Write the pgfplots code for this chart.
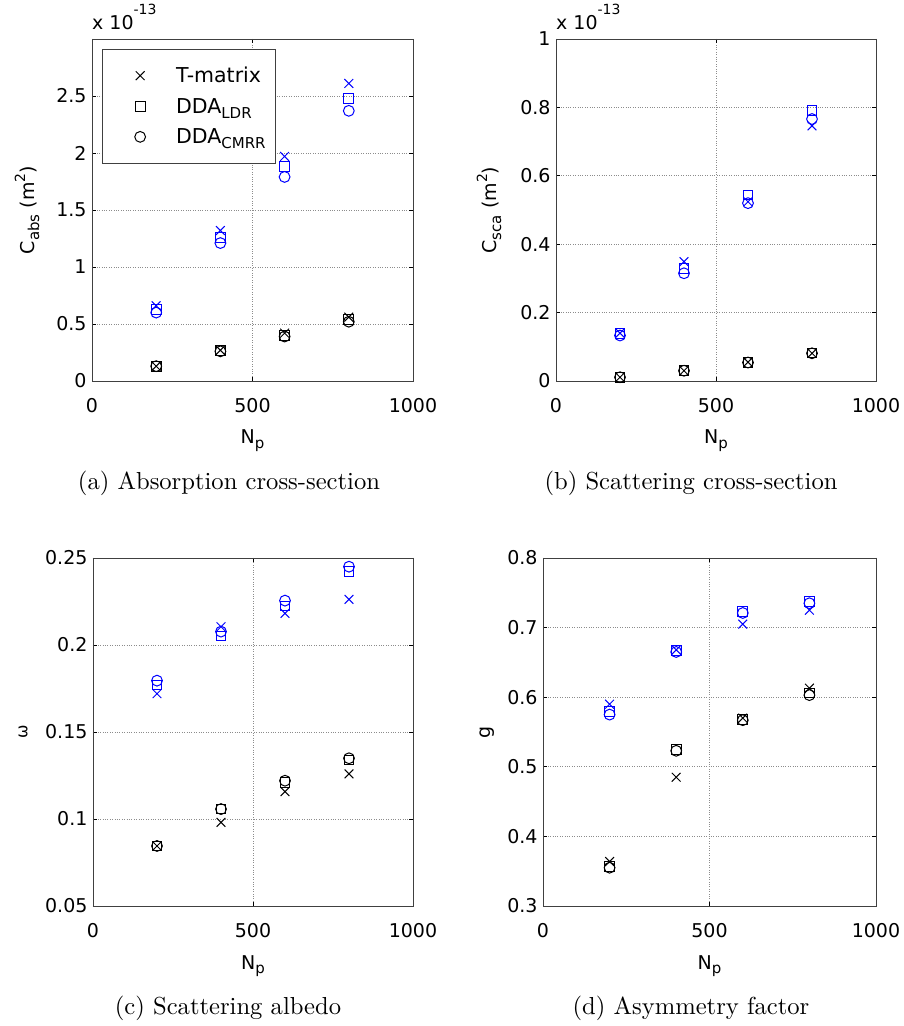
\documentclass[border=0pt]{standalone}
\usepackage{fontspec}
\usepackage{graphicx}
\usepackage{pgfplots}
\pgfplotsset{compat=1.18}
\newfontfamily\axfont{DejaVu Sans}
\newcommand{\axf}{\axfont\fontsize{19}{22}\selectfont}
\newcommand{\lgf}{\axfont\fontsize{20.5}{24}\selectfont}
\newcommand{\sub}[1]{\raisebox{-0.45ex}{\fontsize{15}{15}\selectfont #1}}
\newcommand{\capt}[1]{\scalebox{2.46}{\fontsize{10}{12}\selectfont #1}}
\pgfplotsset{
  panel/.style={
    scale only axis,
    xmin=0, xmax=1000, xtick={0,500,1000},
    grid=major,
    major grid style={dotted, black!45, line width=0.6pt},
    tick align=inside, major tick length=4pt,
    axis line style={black!75, line width=0.8pt},
    tick style={black, line width=0.6pt},
    every tick label/.append style={font=\axf},
    /pgf/number format/assume math mode=true,
    /pgf/number format/fixed,
    /pgf/number format/precision=2,
    /pgf/number format/1000 sep={},
    scaled ticks=false,
    xticklabel style={yshift=-14pt},
    yticklabel style={xshift=-2pt},
    clip=false,
  },
  tm/.style={only marks, mark=x, mark size=6.2pt, mark options={solid, line width=1pt}},
  ldr/.style={only marks, mark=square, mark size=4.9pt, mark options={solid, line width=1pt}},
  cm/.style={only marks, mark=o, mark size=5.4pt, mark options={solid, line width=1pt}},
}
\begin{document}
\begin{tikzpicture}
\path[use as bounding box] (0,0) rectangle (904pt,1026pt);

% (a) Absorption cross-section
\begin{axis}[panel, at={(92pt,645pt)}, anchor=south west, width=321pt, height=342pt,
  ymin=0, ymax=3, ytick={0,0.5,1,1.5,2,2.5},
  legend style={at={(rel axis cs:0.031,0.971)}, anchor=north west, draw=black!75,
    fill=white, font=\lgf, inner xsep=0pt, inner ysep=16pt, row sep=10pt,
    cells={anchor=west}},
  legend image code/.code={\path[draw=none] (0pt,0pt) -- (72pt,0pt); \draw[#1] plot[only marks] coordinates {(38pt,0pt)};},
]
\addlegendimage{tm, black}
\addlegendentry{T-matrix}
\addlegendimage{ldr, black}
\addlegendentry{DDA\sub{LDR}}
\addlegendimage{cm, black}
\addlegendentry{DDA\sub{CMRR}\rule{8pt}{0pt}}
\addplot[tm, blue] coordinates {(200,0.66)(400,1.32)(600,1.97)(800,2.61)};
\addplot[ldr, blue] coordinates {(200,0.63)(400,1.26)(600,1.88)(800,2.48)};
\addplot[cm, blue] coordinates {(200,0.60)(400,1.21)(600,1.79)(800,2.37)};
\addplot[tm, black] coordinates {(200,0.13)(400,0.27)(600,0.42)(800,0.56)};
\addplot[ldr, black] coordinates {(200,0.13)(400,0.27)(600,0.40)(800,0.54)};
\addplot[cm, black] coordinates {(200,0.13)(400,0.26)(600,0.39)(800,0.52)};
\node[font=\axf, anchor=base west, inner sep=0pt] at ([yshift=9pt]rel axis cs:0,1) {x 10\raisebox{15pt}{\fontsize{14}{14}\selectfont -13}};
\node[font=\axf, rotate=90, anchor=center] at ([xshift=-65pt]rel axis cs:0,0.5) {C\sub{abs} (m\raisebox{0.9ex}{\fontsize{14}{14}\selectfont 2})};
\node[font=\axf, anchor=base] at ([yshift=-63pt]rel axis cs:0.5,0) {N\sub{p}};
\end{axis}

% (b) Scattering cross-section
\begin{axis}[panel, at={(556pt,645pt)}, anchor=south west, width=320pt, height=342pt,
  ymin=0, ymax=1, ytick={0,0.2,0.4,0.6,0.8,1}]
\addplot[tm, blue] coordinates {(200,0.140)(400,0.349)(600,0.524)(800,0.746)};
\addplot[ldr, blue] coordinates {(200,0.140)(400,0.329)(600,0.544)(800,0.792)};
\addplot[cm, blue] coordinates {(200,0.133)(400,0.315)(600,0.520)(800,0.766)};
\addplot[tm, black] coordinates {(200,0.011)(400,0.030)(600,0.055)(800,0.081)};
\addplot[ldr, black] coordinates {(200,0.011)(400,0.030)(600,0.055)(800,0.082)};
\addplot[cm, black] coordinates {(200,0.011)(400,0.030)(600,0.054)(800,0.081)};
\node[font=\axf, anchor=base west, inner sep=0pt] at ([yshift=9pt]rel axis cs:0,1) {x 10\raisebox{15pt}{\fontsize{14}{14}\selectfont -13}};
\node[font=\axf, rotate=90, anchor=center] at ([xshift=-67pt]rel axis cs:0,0.5) {C\sub{sca} (m\raisebox{0.9ex}{\fontsize{14}{14}\selectfont 2})};
\node[font=\axf, anchor=base] at ([yshift=-63pt]rel axis cs:0.5,0) {N\sub{p}};
\end{axis}

% (c) Scattering albedo
\begin{axis}[panel, at={(93pt,120pt)}, anchor=south west, width=320pt, height=348pt,
  ymin=0.05, ymax=0.25, ytick={0.05,0.1,0.15,0.2,0.25}]
\addplot[tm, blue] coordinates {(200,0.1720)(400,0.2105)(600,0.2182)(800,0.2262)};
\addplot[ldr, blue] coordinates {(200,0.1770)(400,0.2052)(600,0.2224)(800,0.2421)};
\addplot[cm, blue] coordinates {(200,0.1795)(400,0.2077)(600,0.2255)(800,0.2450)};
\addplot[tm, black] coordinates {(200,0.0845)(400,0.0981)(600,0.1157)(800,0.1259)};
\addplot[ldr, black] coordinates {(200,0.0845)(400,0.1057)(600,0.1209)(800,0.1339)};
\addplot[cm, black] coordinates {(200,0.0845)(400,0.1057)(600,0.1220)(800,0.1349)};
\node[font=\axfont\fontsize{16}{18}\selectfont, rotate=90, anchor=center] at ([xshift=-70pt]rel axis cs:0,0.5) {ω};
\node[font=\axf, anchor=base] at ([yshift=-63pt]rel axis cs:0.5,0) {N\sub{p}};
\end{axis}

% (d) Asymmetry factor
\begin{axis}[panel, at={(543pt,120pt)}, anchor=south west, width=333pt, height=348pt,
  ymin=0.3, ymax=0.8, ytick={0.3,0.4,0.5,0.6,0.7,0.8}]
\addplot[tm, blue] coordinates {(200,0.590)(400,0.668)(600,0.705)(800,0.725)};
\addplot[ldr, blue] coordinates {(200,0.579)(400,0.667)(600,0.723)(800,0.737)};
\addplot[cm, blue] coordinates {(200,0.575)(400,0.665)(600,0.721)(800,0.735)};
\addplot[tm, black] coordinates {(200,0.364)(400,0.485)(600,0.570)(800,0.613)};
\addplot[ldr, black] coordinates {(200,0.357)(400,0.525)(600,0.568)(800,0.606)};
\addplot[cm, black] coordinates {(200,0.355)(400,0.523)(600,0.567)(800,0.603)};
\node[font=\axf, rotate=90, anchor=center] at ([xshift=-56pt]rel axis cs:0,0.5) {g};
\node[font=\axf, anchor=base] at ([yshift=-63pt]rel axis cs:0.5,0) {N\sub{p}};
\end{axis}

\node[anchor=center, inner sep=0pt] at (229pt,543pt) {\capt{(a) Absorption cross-section}};
\node[anchor=center, inner sep=0pt] at (691pt,543pt) {\capt{(b) Scattering cross-section}};
\node[anchor=center, inner sep=0pt] at (228pt,18pt) {\capt{(c) Scattering albedo}};
\node[anchor=center, inner sep=0pt] at (691pt,18pt) {\capt{(d) Asymmetry factor}};
\end{tikzpicture}
\end{document}
